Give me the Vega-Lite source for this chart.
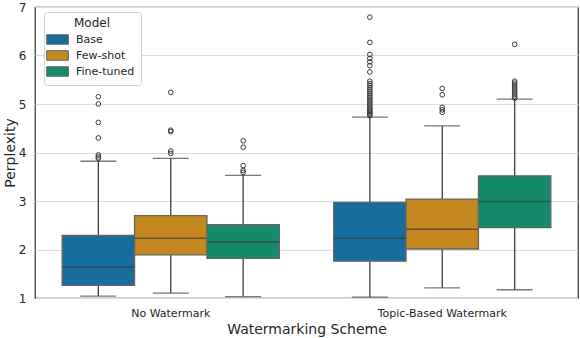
{
  "$schema": "https://vega.github.io/schema/vega-lite/v6.json",
  "width": 543,
  "height": 291,
  "autosize": {"type": "none"},
  "padding": {"left": 35, "top": 7, "right": 2, "bottom": 40},
  "background": "white",
  "config": {
    "font": "DejaVu Sans",
    "view": {"stroke": "#3a3a3a", "strokeWidth": 1.25},
    "axis": {"labelFont": "DejaVu Sans", "titleFont": "DejaVu Sans", "labelColor": "#262626", "titleColor": "#262626", "titleFontWeight": "normal"}
  },
  "datasets": {
    "boxes": [
      {"scheme": "No Watermark", "model": "Base", "lower": 1.04, "q1": 1.26, "median": 1.64, "q3": 2.29, "upper": 3.82},
      {"scheme": "No Watermark", "model": "Few-shot", "lower": 1.10, "q1": 1.89, "median": 2.23, "q3": 2.70, "upper": 3.88},
      {"scheme": "No Watermark", "model": "Fine-tuned", "lower": 1.03, "q1": 1.82, "median": 2.155, "q3": 2.51, "upper": 3.53},
      {"scheme": "Topic-Based Watermark", "model": "Base", "lower": 1.02, "q1": 1.76, "median": 2.23, "q3": 2.97, "upper": 4.73},
      {"scheme": "Topic-Based Watermark", "model": "Few-shot", "lower": 1.21, "q1": 2.01, "median": 2.42, "q3": 3.04, "upper": 4.55},
      {"scheme": "Topic-Based Watermark", "model": "Fine-tuned", "lower": 1.17, "q1": 2.45, "median": 2.99, "q3": 3.52, "upper": 5.10}
    ],
    "outliers": [
      {"scheme": "No Watermark", "model": "Base", "value": 5.15},
      {"scheme": "No Watermark", "model": "Base", "value": 5.0},
      {"scheme": "No Watermark", "model": "Base", "value": 4.62},
      {"scheme": "No Watermark", "model": "Base", "value": 4.30},
      {"scheme": "No Watermark", "model": "Base", "value": 3.95},
      {"scheme": "No Watermark", "model": "Base", "value": 3.91},
      {"scheme": "No Watermark", "model": "Base", "value": 3.88},
      {"scheme": "No Watermark", "model": "Few-shot", "value": 5.24},
      {"scheme": "No Watermark", "model": "Few-shot", "value": 4.46},
      {"scheme": "No Watermark", "model": "Few-shot", "value": 4.43},
      {"scheme": "No Watermark", "model": "Few-shot", "value": 4.03},
      {"scheme": "No Watermark", "model": "Few-shot", "value": 3.98},
      {"scheme": "No Watermark", "model": "Fine-tuned", "value": 4.24},
      {"scheme": "No Watermark", "model": "Fine-tuned", "value": 4.11},
      {"scheme": "No Watermark", "model": "Fine-tuned", "value": 3.73},
      {"scheme": "No Watermark", "model": "Fine-tuned", "value": 3.63},
      {"scheme": "No Watermark", "model": "Fine-tuned", "value": 3.59},
      {"scheme": "Topic-Based Watermark", "model": "Base", "value": 6.79},
      {"scheme": "Topic-Based Watermark", "model": "Base", "value": 6.27},
      {"scheme": "Topic-Based Watermark", "model": "Base", "value": 6.02},
      {"scheme": "Topic-Based Watermark", "model": "Base", "value": 5.94},
      {"scheme": "Topic-Based Watermark", "model": "Base", "value": 5.87},
      {"scheme": "Topic-Based Watermark", "model": "Base", "value": 5.79},
      {"scheme": "Topic-Based Watermark", "model": "Base", "value": 5.66},
      {"scheme": "Topic-Based Watermark", "model": "Base", "value": 5.47},
      {"scheme": "Topic-Based Watermark", "model": "Base", "value": 5.42},
      {"scheme": "Topic-Based Watermark", "model": "Base", "value": 5.38},
      {"scheme": "Topic-Based Watermark", "model": "Base", "value": 5.34},
      {"scheme": "Topic-Based Watermark", "model": "Base", "value": 5.30},
      {"scheme": "Topic-Based Watermark", "model": "Base", "value": 5.26},
      {"scheme": "Topic-Based Watermark", "model": "Base", "value": 5.22},
      {"scheme": "Topic-Based Watermark", "model": "Base", "value": 5.18},
      {"scheme": "Topic-Based Watermark", "model": "Base", "value": 5.14},
      {"scheme": "Topic-Based Watermark", "model": "Base", "value": 5.10},
      {"scheme": "Topic-Based Watermark", "model": "Base", "value": 5.06},
      {"scheme": "Topic-Based Watermark", "model": "Base", "value": 5.02},
      {"scheme": "Topic-Based Watermark", "model": "Base", "value": 4.98},
      {"scheme": "Topic-Based Watermark", "model": "Base", "value": 4.94},
      {"scheme": "Topic-Based Watermark", "model": "Base", "value": 4.90},
      {"scheme": "Topic-Based Watermark", "model": "Base", "value": 4.87},
      {"scheme": "Topic-Based Watermark", "model": "Base", "value": 4.84},
      {"scheme": "Topic-Based Watermark", "model": "Base", "value": 4.81},
      {"scheme": "Topic-Based Watermark", "model": "Base", "value": 4.78},
      {"scheme": "Topic-Based Watermark", "model": "Base", "value": 4.76},
      {"scheme": "Topic-Based Watermark", "model": "Few-shot", "value": 5.32},
      {"scheme": "Topic-Based Watermark", "model": "Few-shot", "value": 5.19},
      {"scheme": "Topic-Based Watermark", "model": "Few-shot", "value": 4.93},
      {"scheme": "Topic-Based Watermark", "model": "Few-shot", "value": 4.88},
      {"scheme": "Topic-Based Watermark", "model": "Few-shot", "value": 4.83},
      {"scheme": "Topic-Based Watermark", "model": "Fine-tuned", "value": 6.23},
      {"scheme": "Topic-Based Watermark", "model": "Fine-tuned", "value": 5.47},
      {"scheme": "Topic-Based Watermark", "model": "Fine-tuned", "value": 5.43},
      {"scheme": "Topic-Based Watermark", "model": "Fine-tuned", "value": 5.39},
      {"scheme": "Topic-Based Watermark", "model": "Fine-tuned", "value": 5.35},
      {"scheme": "Topic-Based Watermark", "model": "Fine-tuned", "value": 5.31},
      {"scheme": "Topic-Based Watermark", "model": "Fine-tuned", "value": 5.27},
      {"scheme": "Topic-Based Watermark", "model": "Fine-tuned", "value": 5.23},
      {"scheme": "Topic-Based Watermark", "model": "Fine-tuned", "value": 5.19},
      {"scheme": "Topic-Based Watermark", "model": "Fine-tuned", "value": 5.15},
      {"scheme": "Topic-Based Watermark", "model": "Fine-tuned", "value": 5.12}
    ]
  },
  "encoding": {
    "x": {
      "field": "scheme", "type": "nominal",
      "scale": {"domain": ["No Watermark", "Topic-Based Watermark"], "paddingInner": 0.2, "paddingOuter": 0.1},
      "axis": {"title": "Watermarking Scheme", "labelAngle": 0, "labelFontSize": 11, "titleFontSize": 14, "tickSize": 0, "labelPadding": 9, "titlePadding": 4, "domain": false, "grid": false}
    },
    "xOffset": {
      "field": "model", "type": "nominal",
      "scale": {"domain": ["Base", "Few-shot", "Fine-tuned"], "paddingInner": 0, "paddingOuter": 0}
    }
  },
  "layer": [
    {
      "data": {"name": "boxes"},
      "mark": {"type": "rule", "color": "#3f3f3f", "strokeWidth": 1.3},
      "encoding": {
        "y": {"field": "lower", "type": "quantitative", "scale": {"domain": [1, 7], "nice": false, "zero": false},
          "axis": {"title": "Perplexity", "values": [1, 2, 3, 4, 5, 6, 7], "labelFontSize": 12, "titleFontSize": 14, "tickSize": 0, "labelPadding": 9, "titlePadding": 1, "domain": false, "grid": true, "gridColor": "#dcdcdc", "gridWidth": 1}},
        "y2": {"field": "upper"}
      }
    },
    {
      "data": {"name": "boxes"},
      "mark": {"type": "tick", "color": "#3f3f3f", "size": 36, "thickness": 1.3},
      "encoding": {"y": {"field": "lower", "type": "quantitative"}}
    },
    {
      "data": {"name": "boxes"},
      "mark": {"type": "tick", "color": "#3f3f3f", "size": 36, "thickness": 1.3},
      "encoding": {"y": {"field": "upper", "type": "quantitative"}}
    },
    {
      "data": {"name": "boxes"},
      "mark": {"type": "bar", "stroke": "#666666", "strokeWidth": 1.3, "opacity": 1},
      "encoding": {
        "y": {"field": "q1", "type": "quantitative"},
        "y2": {"field": "q3"},
        "fill": {
          "field": "model", "type": "nominal",
          "scale": {"domain": ["Base", "Few-shot", "Fine-tuned"], "range": ["#176d9c", "#c5881f", "#158a6b"]},
          "legend": {
            "title": "Model", "orient": "none", "legendX": 9, "legendY": 5,
            "titleAnchor": "middle", "titleFontSize": 12, "titleFontWeight": "normal", "titleColor": "#262626", "titleFont": "DejaVu Sans",
            "labelFontSize": 11, "labelColor": "#262626", "labelFont": "DejaVu Sans",
            "symbolType": "M-1.55,-0.68H1.55V0.68H-1.55Z", "symbolSize": 196, "symbolStrokeColor": "#666666", "symbolStrokeWidth": 1,
            "fillColor": "white", "strokeColor": "#d0d0d0", "cornerRadius": 3, "padding": 6, "rowPadding": 1, "labelOffset": 11, "titlePadding": 2, "offset": 0
          }
        }
      }
    },
    {
      "data": {"name": "boxes"},
      "mark": {"type": "tick", "color": "#3a3a3a", "size": 72, "thickness": 1.5},
      "encoding": {"y": {"field": "median", "type": "quantitative"}}
    },
    {
      "data": {"name": "outliers"},
      "mark": {"type": "point", "shape": "circle", "filled": false, "stroke": "#3a3a3a", "strokeWidth": 1, "size": 22, "opacity": 1},
      "encoding": {"y": {"field": "value", "type": "quantitative"}}
    }
  ]
}
